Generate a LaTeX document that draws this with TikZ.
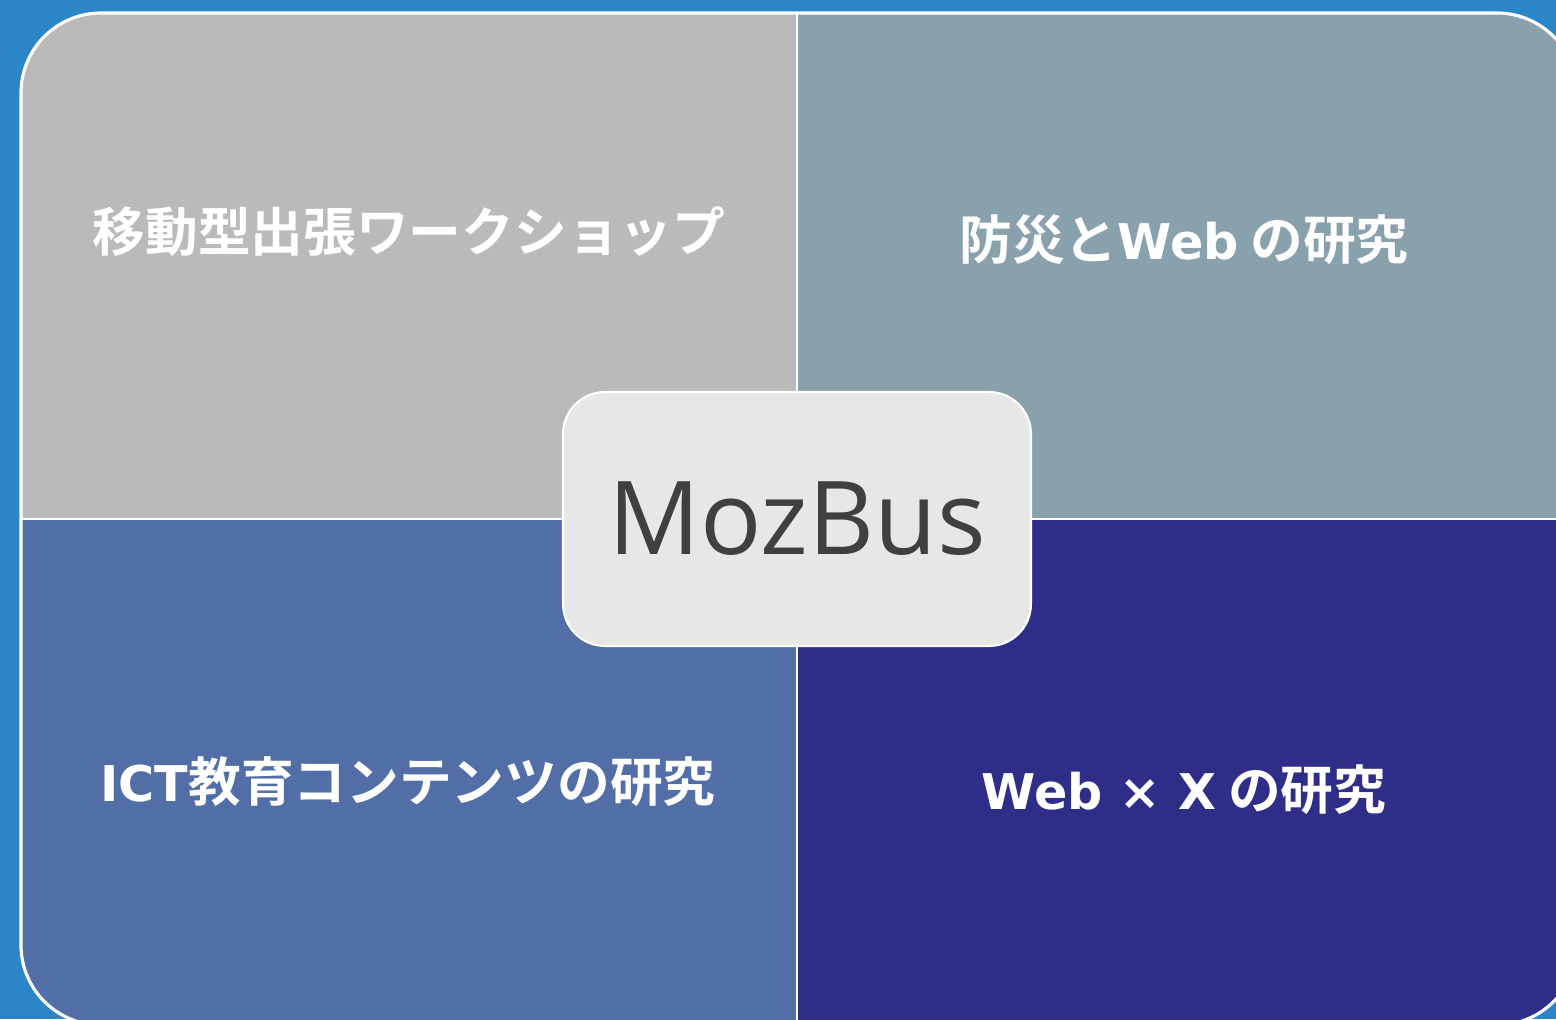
\documentclass[tikz,border=0pt]{standalone}
\usepackage{fontspec}
\setmainfont{Open Sans}
\newfontfamily\jpfont{Noto Sans CJK JP}[BoldFont={Noto Sans CJK JP Bold}]
\newfontfamily\latinfont{DejaVu Sans}
\newcommand{\lat}[1]{{\latinfont\bfseries\fontsize{28}{36}\selectfont #1}}
\definecolor{bgblue}{HTML}{2A86C6}
\definecolor{quadgray}{HTML}{B9BAB9}
\definecolor{quadslate}{HTML}{89A1AD}
\definecolor{quadblue}{HTML}{516EA6}
\definecolor{quadnavy}{HTML}{2E2E89}
\definecolor{boxgray}{HTML}{E7E7E7}
\definecolor{textgray}{HTML}{404040}
\tikzset{
  topic/.style={text=white,font=\jpfont\bfseries\fontsize{30}{36}\selectfont},
  center box/.style={draw=white,line width=1.2pt,fill=boxgray,rounded corners=0.84cm,
    minimum width=9.36cm,minimum height=5.08cm,text=textgray,
    font=\fontsize{58}{66}\selectfont}
}

\begin{document}
\begin{tikzpicture}[x=0.02cm,y=-0.02cm]
   \useasboundingbox (0,0) rectangle (1556,1019);
   \fill[bgblue] (0,0) rectangle (1556,1019);
   \begin{scope}
    \clip[rounded corners=1.6cm] (21,13) rectangle (1577,1025);
    \fill[quadgray]  (21,13)   rectangle (797,519);
    \fill[quadslate] (797,13)  rectangle (1577,519);
    \fill[quadblue]  (21,519)  rectangle (797,1025);
    \fill[quadnavy]  (797,519) rectangle (1577,1025);
    \draw[white,line width=1.2pt] (797,13) -- (797,1025);
    \draw[white,line width=1.2pt] (21,519) -- (1577,519);
   \end{scope}
   \draw[white,line width=1.8pt,rounded corners=1.6cm] (21,13) rectangle (1577,1025);
   \node[topic] (workshop) at (409,232) {移動型出張ワークショップ};
   \node[topic] (bousai)   at (1184,240) {防災と\lat{Web} の研究};
   \node[topic] (ict)      at (408,782) {\lat{ICT}教育コンテンツの研究};
   \node[topic] (webx)     at (1184,790) {\lat{Web × X} の研究};
   \node[center box] (mozbus) at (797,519) {MozBus};
\end{tikzpicture}
\end{document}
